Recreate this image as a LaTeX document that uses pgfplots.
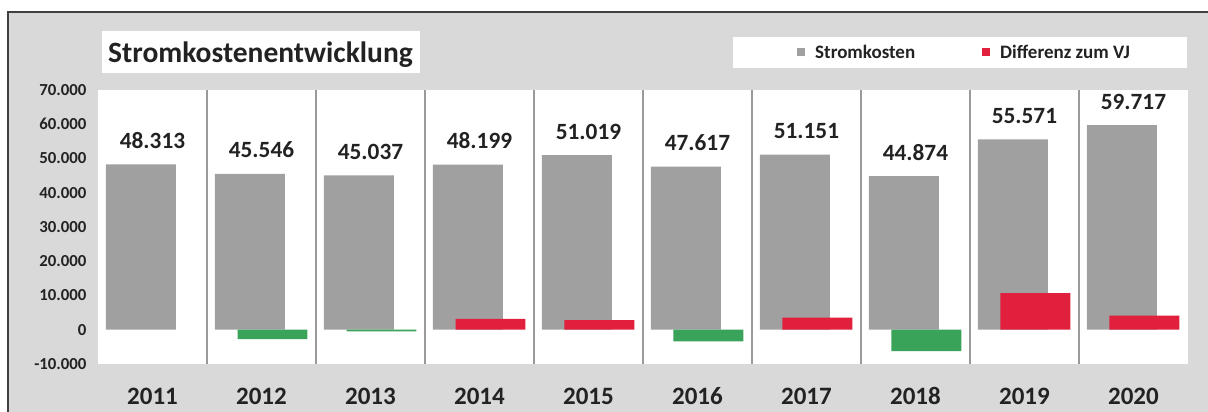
\documentclass[border=0pt]{standalone}
\usepackage{fontspec}
\setmainfont{Carlito}
\usepackage{pgfplots}
\pgfplotsset{compat=1.18}
\definecolor{bg}{HTML}{D9D9D9}
\definecolor{barGray}{HTML}{A0A0A0}
\definecolor{diffRed}{HTML}{E0203C}
\definecolor{diffGreen}{HTML}{3AA35A}
\definecolor{sepGray}{HTML}{9A9A9A}
\definecolor{txt}{HTML}{222222}

\begin{document}
\begin{tikzpicture}[x=1pt,y=1pt]
\path[use as bounding box] (0,0) rectangle (1208,412);
\fill[white] (0,0) rectangle (1208,412);
\fill[bg] (8,0) rectangle (1208,400);
\draw[black!75, line width=1.5pt] (8,0) -- (8,400) -- (1208,400);
% title box
\fill[white] (102,339) rectangle (420,381);
\node[anchor=base west, inner sep=0pt, text=txt, font=\fontsize{29.5}{34}\selectfont\bfseries] at (108,349) {Stromkostenentwicklung};
% legend box
\fill[white] (733,344) rectangle (1187,375);

\begin{axis}[
    at={(98pt,48pt)}, anchor=south west, scale only axis,
    width=1090pt, height=274pt,
    xmin=-0.5, xmax=9.5,
    ymin=-10000, ymax=70000,
    axis background/.style={fill=white},
    axis line style={draw=none},
    xtick={0,1,2,3,4,5,6,7,8,9},
    xticklabels={2011,2012,2013,2014,2015,2016,2017,2018,2019,2020},
    minor xtick={0.5,1.5,2.5,3.5,4.5,5.5,6.5,7.5,8.5},
    xminorgrids,
    minor grid style={sepGray, line width=1.2pt},
    major tick length=0pt, minor tick length=0pt,
    ytick={-10000,0,10000,20000,30000,40000,50000,60000,70000},
    scaled y ticks=false,
    /pgf/number format/fixed,
    /pgf/number format/precision=0,
    /pgf/number format/1000 sep={.},
    /pgf/number format/assume math mode=true,
    yticklabel style={font=\fontsize{16.8}{20}\selectfont\bfseries, text=txt, xshift=-8pt},
    xticklabel style={font=\fontsize{25}{30}\selectfont\bfseries, text=txt,
        anchor=base, inner sep=0pt, yshift=-41pt},
    legend style={at={(0.6413,1.1369)}, anchor=west, draw=none, fill=none,
        inner sep=0pt, legend columns=2,
        font=\fontsize{19}{22}\selectfont\bfseries, text=txt,
        /tikz/every odd column/.append style={column sep=8pt},
        /tikz/every even column/.append style={column sep=65pt}},
    legend cell align=left,
]

\addplot[ybar, bar width=0.642, bar shift=-0.106, fill=barGray, draw=none,
    nodes near coords,
    every node near coord/.append style={anchor=base, inner sep=0pt, yshift=16pt,
        font=\fontsize{23.3}{27}\selectfont\bfseries, text=txt},
    legend image code/.code={\fill[barGray] (0pt,-4pt) rectangle (8pt,4pt);}]
    coordinates {(0,48313) (1,45546) (2,45037) (3,48199) (4,51019)
                 (5,47617) (6,51151) (7,44874) (8,55571) (9,59717)};
\addlegendentry{Stromkosten}

\addplot[ybar, bar width=0.642, bar shift=0.101, fill=diffGreen, draw=none, forget plot]
    coordinates {(1,-2767) (2,-509) (5,-3402) (7,-6277)};

\addplot[ybar, bar width=0.642, bar shift=0.101, fill=diffRed, draw=none,
    legend image code/.code={\fill[diffRed] (0pt,-4pt) rectangle (8pt,4pt);}]
    coordinates {(3,3162) (4,2820) (6,3534) (8,10697) (9,4146)};
\addlegendentry{Differenz zum VJ}

\end{axis}
\end{tikzpicture}
\end{document}
